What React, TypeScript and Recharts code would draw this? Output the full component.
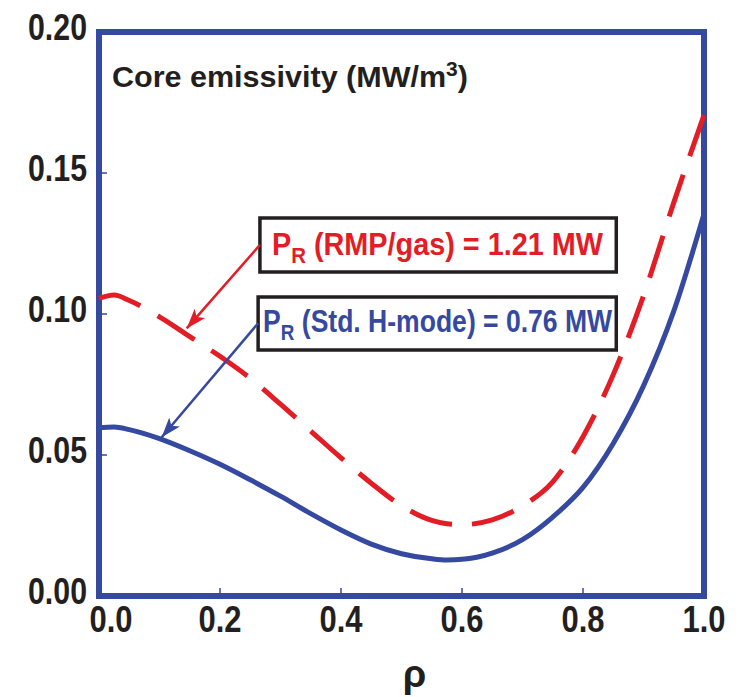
import React from 'react';
import { LineChart, Line, XAxis, YAxis, ReferenceArea, ReferenceLine } from 'recharts';

const rho = [0, 0.025, 0.05, 0.1, 0.15, 0.2, 0.25, 0.3, 0.35, 0.4, 0.45, 0.5, 0.55, 0.575, 0.6, 0.65, 0.7, 0.75, 0.8, 0.85, 0.9, 0.95, 1.0];
const stdHmode = [0.0597, 0.0599, 0.059, 0.0558, 0.0515, 0.0467, 0.0412, 0.0354, 0.0292, 0.0234, 0.0184, 0.015, 0.0132, 0.0128, 0.013, 0.0152, 0.02, 0.028, 0.0385, 0.0541, 0.0745, 0.101, 0.1355];
const rmpGas = [0.1055, 0.1067, 0.1048, 0.099, 0.092, 0.085, 0.0772, 0.068, 0.0585, 0.049, 0.04, 0.032, 0.0268, 0.0256, 0.0253, 0.027, 0.032, 0.0405, 0.0565, 0.0785, 0.1065, 0.1395, 0.1705];

const xTicks = [0, 0.2, 0.4, 0.6, 0.8, 1.0];
const yTicks = [0, 0.05, 0.1, 0.15, 0.2];

const titleText = 'Core emissivity (MW/m';
const redLabel = ['P', 'R', ' (RMP/gas) = 1.21 MW'];
const blueLabel = ['P', 'R', ' (Std. H-mode) = 0.76 MW'];

// annotation boxes & arrows in data units
const redBox = { x1: 0.266, x2: 0.855, y1: 0.1149, y2: 0.134 };
const blueBox = { x1: 0.263, x2: 0.855, y1: 0.0872, y2: 0.106 };
const redArrow = [{ x: 0.266, y: 0.1245 }, { x: 0.145, y: 0.0949 }];
const blueArrow = [{ x: 0.263, y: 0.0967 }, { x: 0.1036, y: 0.0563 }];

const data = rho.map((r, i) => ({ rho: r, std: stdHmode[i], rmp: rmpGas[i] }));

const BLUE = '#3549a0';
const RED = '#e31d25';
const INK = '#231f20';
const FONT = "'Liberation Sans', Arial, sans-serif";

const XTick = (props: any) => {
  const { x, y, payload, index } = props;
  return (
    <text x={x + (index === 0 ? 12 : 0)} y={y + 36} textAnchor="middle" fontFamily={FONT} fontWeight="bold" fontSize={37} fill={INK} textLength={43} lengthAdjust="spacingAndGlyphs">
      {Number(payload.value).toFixed(1)}
    </text>
  );
};

const YTick = (props: any) => {
  const { x, y, payload } = props;
  return (
    <text x={x} y={y + 7.5} textAnchor="end" fontFamily={FONT} fontWeight="bold" fontSize={37} fill={INK} textLength={59} lengthAdjust="spacingAndGlyphs">
      {Number(payload.value).toFixed(2)}
    </text>
  );
};

const FrameLabel = (props: any) => {
  const vb = props.viewBox || {};
  return (
    <text x={vb.x + 13} y={vb.y + 55} fontFamily={FONT} fontWeight="bold" fontSize={29} fill={INK} textLength={356} lengthAdjust="spacingAndGlyphs">
      {titleText}
      <tspan fontSize={20} dy={-11}>3</tspan>
      <tspan dy={11}>)</tspan>
    </text>
  );
};

const BoxLabel = (props: any) => {
  const vb = props.viewBox || {};
  const { parts, color, dx, base, len } = props;
  return (
    <text x={vb.x + dx} y={vb.y + base} fontFamily={FONT} fontWeight="bold" fontSize={31} fill={color} textLength={len} lengthAdjust="spacingAndGlyphs">
      {parts[0]}
      <tspan fontSize={22} dy={8}>{parts[1]}</tspan>
      <tspan dy={-8}>{parts[2]}</tspan>
    </text>
  );
};

const RhoLabel = (props: any) => {
  const vb = props.viewBox || {};
  return (
    <text x={vb.x + vb.width / 2 + 13} y={vb.y + 91} textAnchor="middle" fontFamily={FONT} fontWeight="bold" fontSize={38} fill={INK}>
      ρ
    </text>
  );
};

const arrowShape = (color: string, id: string) => (p: any) => (
  <line x1={p.x1} y1={p.y1} x2={p.x2} y2={p.y2} stroke={color} strokeWidth={2.5} markerEnd={`url(#${id})`} />
);

export default function App() {
  return (
    <div style={{ position: 'relative', width: 737, height: 689 }}>
      <svg width={0} height={0} style={{ position: 'absolute' }}>
        <defs>
          <marker id="arrRed" markerUnits="userSpaceOnUse" markerWidth={22} markerHeight={16} refX={20} refY={8} orient="auto">
            <path d="M0,1 L20,8 L0,15 L5,8 Z" fill={RED} />
          </marker>
          <marker id="arrBlue" markerUnits="userSpaceOnUse" markerWidth={22} markerHeight={16} refX={20} refY={8} orient="auto">
            <path d="M0,1 L20,8 L0,15 L5,8 Z" fill={BLUE} />
          </marker>
        </defs>
      </svg>
      <LineChart width={737} height={689} data={data} margin={{ top: 23, right: 40, bottom: 41, left: 11 }}>
        <XAxis
          dataKey="rho"
          type="number"
          domain={[0, 1]}
          ticks={xTicks}
          height={60}
          axisLine={false}
          tickSize={-8}
          tickMargin={8}
          tickLine={{ stroke: BLUE, strokeWidth: 1.5 }}
          tick={<XTick />}
          label={<RhoLabel />}
        />
        <XAxis
          xAxisId="top"
          orientation="top"
          dataKey="rho"
          type="number"
          domain={[0, 1]}
          ticks={xTicks}
          height={1}
          axisLine={false}
          tickSize={-8}
          tickLine={{ stroke: BLUE, strokeWidth: 1.5 }}
          tick={false}
        />
        <YAxis
          type="number"
          domain={[0, 0.2]}
          ticks={yTicks}
          width={80}
          axisLine={false}
          tickSize={-8}
          tickMargin={20}
          tickLine={{ stroke: BLUE, strokeWidth: 1.5 }}
          tick={<YTick />}
        />
        <YAxis
          yAxisId="right"
          orientation="right"
          type="number"
          domain={[0, 0.2]}
          ticks={yTicks}
          width={1}
          axisLine={false}
          tickSize={-8}
          tickLine={{ stroke: BLUE, strokeWidth: 1.5 }}
          tick={false}
        />
        <Line
          dataKey="std"
          type="monotone"
          stroke={BLUE}
          strokeWidth={5}
          dot={false}
          isAnimationActive={false}
        />
        <Line
          dataKey="rmp"
          type="monotone"
          stroke={RED}
          strokeWidth={5}
          strokeDasharray="44 20"
          dot={false}
          isAnimationActive={false}
        />
        <ReferenceLine segment={redArrow} shape={arrowShape(RED, 'arrRed')} />
        <ReferenceLine segment={blueArrow} shape={arrowShape(BLUE, 'arrBlue')} />
        <ReferenceArea
          x1={redBox.x1}
          x2={redBox.x2}
          y1={redBox.y1}
          y2={redBox.y2}
          fill="#ffffff"
          fillOpacity={1}
          stroke={INK}
          strokeWidth={3.5}
          label={<BoxLabel parts={redLabel} color={RED} dx={12} base={37} len={331} />}
        />
        <ReferenceArea
          x1={blueBox.x1}
          x2={blueBox.x2}
          y1={blueBox.y1}
          y2={blueBox.y2}
          fill="#ffffff"
          fillOpacity={1}
          stroke={INK}
          strokeWidth={3.5}
          label={<BoxLabel parts={blueLabel} color={BLUE} dx={5} base={35} len={349} />}
        />
        <ReferenceArea
          x1={0}
          x2={1}
          y1={0}
          y2={0.2}
          fill="none"
          stroke={BLUE}
          strokeWidth={6}
          label={<FrameLabel />}
        />
      </LineChart>
    </div>
  );
}
